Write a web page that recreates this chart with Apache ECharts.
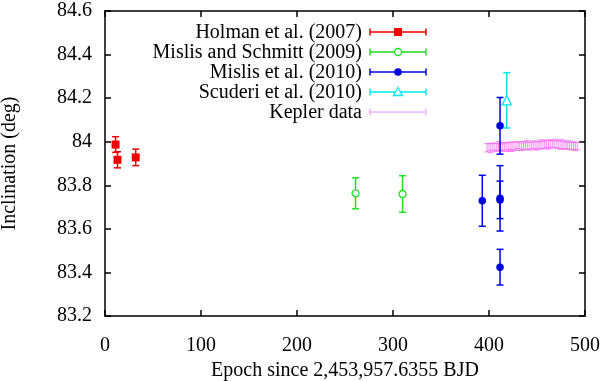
<!DOCTYPE html>
<html>
<head>
<meta charset="utf-8">
<title>Inclination vs epoch</title>
<script src="https://cdn.jsdelivr.net/npm/echarts@6/dist/echarts.min.js"></script>
<style>
    html, body { margin: 0; padding: 0; background: #fff; }
    #chart { width: 600px; height: 381px; }
</style>
</head>
<body>
<div id="chart"></div>
<script>
// 数据：[epoch, inclination, error]
const holmanData = [[11, 83.987, 0.036], [13, 83.917, 0.037], [32, 83.928, 0.038]];
const mislisSchmittData = [[261, 83.763, 0.071], [310, 83.760, 0.084]];
const mislisData = [
    [393, 83.729, 0.117],
    [411.5, 84.073, 0.130],
    [411.5, 83.740, 0.150],
    [411.5, 83.733, 0.086],
    [411.5, 83.424, 0.082]
];
const scuderiData = [[418.5, 84.190, 0.127]];

// Kepler 数据点
const keplerEpochs = [398, 400, 402, 404, 406, 408, 410, 412, 414, 416, 418, 420,
    422, 424, 426, 428, 430, 432, 434, 436, 438, 440, 442, 444,
    446, 448, 450, 452, 454, 456, 458, 460, 462, 464, 466, 468,
    470, 472, 474, 476, 478, 480, 482, 484, 486, 488, 490, 492];
const keplerIncl = [83.972, 83.975, 83.970, 83.978, 83.974, 83.976, 83.980, 83.973, 83.977, 83.979, 83.975, 83.981,
    83.978, 83.976, 83.982, 83.979, 83.984, 83.980, 83.977, 83.983, 83.981, 83.985, 83.979, 83.982,
    83.986, 83.983, 83.980, 83.985, 83.988, 83.984, 83.987, 83.990, 83.986, 83.989, 83.992, 83.988,
    83.991, 83.987, 83.985, 83.988, 83.983, 83.986, 83.981, 83.984, 83.980, 83.982, 83.978, 83.980];
const keplerErr = [0.019, 0.017, 0.021, 0.016, 0.018, 0.017, 0.020, 0.017, 0.019, 0.016, 0.020, 0.017,
    0.018, 0.021, 0.017, 0.019, 0.016, 0.020, 0.017, 0.018, 0.017, 0.020, 0.018, 0.016,
    0.017, 0.020, 0.018, 0.017, 0.021, 0.016, 0.019, 0.017, 0.020, 0.017, 0.018, 0.016,
    0.020, 0.017, 0.019, 0.021, 0.017, 0.018, 0.016, 0.020, 0.017, 0.018, 0.019, 0.017];

// 坐标轴刻度
const xTicks = [0, 100, 200, 300, 400, 500];
const yTickLabels = ['83.2', '83.4', '83.6', '83.8', '84', '84.2', '84.4', '84.6'];

const FONT = '"Liberation Serif", "DejaVu Serif", serif';
const FONT_SIZE = 20;
const COLORS = {
    holman: '#ee0000',
    mislisSchmitt: '#22dd22',
    mislis: '#0000e6',
    scuderi: '#00e8e8',
    kepler: '#f070f0'
};

// 图例条目
const legendItems = [
    { name: 'Holman et al. (2007)', color: COLORS.holman, symbol: 'square' },
    { name: 'Mislis and Schmitt (2009)', color: COLORS.mislisSchmitt, symbol: 'emptyCircle' },
    { name: 'Mislis et al. (2010)', color: COLORS.mislis, symbol: 'circle' },
    { name: 'Scuderi et al. (2010)', color: COLORS.scuderi, symbol: 'emptyTriangle' },
    { name: 'Kepler data', color: COLORS.kepler, symbol: 'none' }
];

const keplerData = keplerEpochs.map((x, i) => [x, keplerIncl[i], keplerErr[i]]);

/**
 * 误差棒 renderItem
 */
function errorBar(color, capHalf, lw) {
    return function (params, api) {
        const x = api.value(0), y = api.value(1), e = api.value(2);
        const top = api.coord([x, y + e]);
        const bot = api.coord([x, y - e]);
        const style = { stroke: color, lineWidth: lw };
        return {
            type: 'group',
            children: [
                { type: 'line', shape: { x1: top[0], y1: top[1], x2: bot[0], y2: bot[1] }, style: style },
                { type: 'line', shape: { x1: top[0] - capHalf, y1: top[1], x2: top[0] + capHalf, y2: top[1] }, style: style },
                { type: 'line', shape: { x1: bot[0] - capHalf, y1: bot[1], x2: bot[0] + capHalf, y2: bot[1] }, style: style }
            ]
        };
    };
}

function errSeries(data, color, capHalf, lw) {
    return {
        type: 'custom',
        xAxisIndex: 0, yAxisIndex: 0,
        renderItem: errorBar(color, capHalf, lw),
        data: data,
        z: 2,
        silent: true
    };
}

function markerSeries(data, color, symbol, size) {
    const hollow = symbol.indexOf('empty') === 0;
    return {
        type: 'scatter',
        xAxisIndex: 0, yAxisIndex: 0,
        symbol: hollow ? symbol.replace('empty', '').toLowerCase() : symbol,
        symbolSize: size,
        itemStyle: hollow
            ? { color: '#fff', borderColor: color, borderWidth: 1.3, opacity: 1 }
            : { color: color, opacity: 1 },
        data: data.map(d => [d[0], d[1]]),
        z: 3,
        silent: true
    };
}

/**
 * 图例（gnuplot 风格：文字右对齐 + 误差棒样例）
 */
function buildLegend() {
    const elems = [];
    const textRight = 362, lineL = 370, lineR = 426, mid = 398;
    legendItems.forEach((item, i) => {
        const y = 32 + i * 20;
        const lw = item.symbol === 'none' ? 0.8 : 1.5;
        elems.push({
            type: 'text',
            style: { x: textRight, y: y + 1, text: item.name, textAlign: 'right', textVerticalAlign: 'middle',
                font: FONT_SIZE + 'px ' + FONT, fill: '#000' }
        });
        elems.push({ type: 'line', shape: { x1: lineL, y1: y, x2: lineR, y2: y }, style: { stroke: item.color, lineWidth: lw } });
        elems.push({ type: 'line', shape: { x1: lineL, y1: y - 3.5, x2: lineL, y2: y + 3.5 }, style: { stroke: item.color, lineWidth: lw } });
        elems.push({ type: 'line', shape: { x1: lineR, y1: y - 3.5, x2: lineR, y2: y + 3.5 }, style: { stroke: item.color, lineWidth: lw } });
        if (item.symbol === 'square') {
            elems.push({ type: 'rect', shape: { x: mid - 4, y: y - 4, width: 8, height: 8 }, style: { fill: item.color } });
        } else if (item.symbol === 'circle') {
            elems.push({ type: 'circle', shape: { cx: mid, cy: y, r: 3.8 }, style: { fill: item.color } });
        } else if (item.symbol === 'emptyCircle') {
            elems.push({ type: 'circle', shape: { cx: mid, cy: y, r: 3.5 }, style: { fill: '#fff', stroke: item.color, lineWidth: 1.3 } });
        } else if (item.symbol === 'emptyTriangle') {
            elems.push({ type: 'polygon', shape: { points: [[mid, y - 4.5], [mid - 4.5, y + 3.5], [mid + 4.5, y + 3.5]] },
                style: { fill: '#fff', stroke: item.color, lineWidth: 1.3 } });
        }
    });
    return elems;
}

const axisLineStyle = { color: '#000', width: 1.5 };
const tickStyle = { show: true, inside: true, length: 6, lineStyle: { color: '#000', width: 1.5 } };

const option = {
    animation: false,
    backgroundColor: '#fff',
    grid: { left: 105, right: 15, top: 11, bottom: 65, containLabel: false, outerBoundsMode: 'none' },
    xAxis: [{
        type: 'value', position: 'bottom',
        min: xTicks[0], max: xTicks[xTicks.length - 1], interval: 100,
        name: 'Epoch since 2,453,957.6355 BJD',
        nameLocation: 'middle', nameGap: 43,
        nameTextStyle: { fontFamily: FONT, fontSize: FONT_SIZE, color: '#000' },
        axisLine: { show: true, onZero: false, lineStyle: axisLineStyle },
        axisTick: tickStyle,
        axisLabel: { margin: 20, fontFamily: FONT, fontSize: FONT_SIZE, color: '#000' },
        splitLine: { show: false }
    }, {
        type: 'value', position: 'top',
        min: xTicks[0], max: xTicks[xTicks.length - 1], interval: 100,
        axisLine: { show: true, onZero: false, lineStyle: axisLineStyle },
        axisTick: tickStyle,
        axisLabel: { show: false },
        splitLine: { show: false }
    }],
    yAxis: [{
        type: 'value', position: 'left',
        min: 83.2, max: 84.6, interval: 0.2,
        name: 'Inclination (deg)',
        nameLocation: 'middle', nameGap: 85, nameRotate: 90,
        nameTextStyle: { fontFamily: FONT, fontSize: FONT_SIZE, color: '#000' },
        axisLine: { show: true, onZero: false, lineStyle: axisLineStyle },
        axisTick: tickStyle,
        axisLabel: {
            margin: 13, fontFamily: FONT, fontSize: FONT_SIZE, color: '#000',
            formatter: function (v) {
                const idx = Math.round((v - 83.2) / 0.2);
                return yTickLabels[idx] !== undefined ? yTickLabels[idx] : '';
            }
        },
        splitLine: { show: false }
    }, {
        type: 'value', position: 'right',
        min: 83.2, max: 84.6, interval: 0.2,
        axisLine: { show: true, onZero: false, lineStyle: axisLineStyle },
        axisTick: tickStyle,
        axisLabel: { show: false },
        splitLine: { show: false }
    }],
    graphic: buildLegend(),
    series: [
        errSeries(keplerData, COLORS.kepler, 3, 0.8),
        errSeries(holmanData, COLORS.holman, 3.5, 1.5),
        markerSeries(holmanData, COLORS.holman, 'rect', 8),
        errSeries(mislisSchmittData, COLORS.mislisSchmitt, 3.5, 1.5),
        markerSeries(mislisSchmittData, COLORS.mislisSchmitt, 'emptyCircle', 7),
        errSeries(mislisData, COLORS.mislis, 3.5, 1.5),
        markerSeries(mislisData, COLORS.mislis, 'circle', 7.5),
        errSeries(scuderiData, COLORS.scuderi, 3.5, 1.5),
        markerSeries(scuderiData, COLORS.scuderi, 'emptyTriangle', 9)
    ]
};

const chart = echarts.init(document.getElementById('chart'));
chart.setOption(option);
window.addEventListener('resize', () => chart.resize());
</script>
</body>
</html>
